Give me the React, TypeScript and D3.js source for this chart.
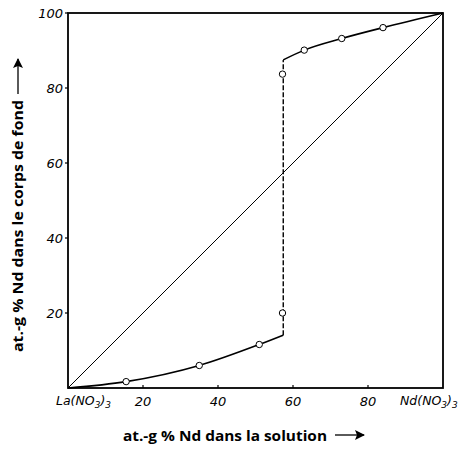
import React from "react";
import * as d3 from "d3";

const lowerX = [0, 15.5, 35, 51, 57.4];
const lowerY = [0, 1.7, 6.0, 11.6, 14.1];
const upperX = [57.4, 63, 73, 84, 100];
const upperY = [87.5, 90.1, 93.2, 96.1, 100];
const jumpX = [57.4, 57.4];
const jumpY = [14.1, 87.5];
const pointsX = [15.5, 35, 51, 57.2, 57.2, 63, 73, 84];
const pointsY = [1.7, 6.0, 11.6, 20, 83.7, 90.1, 93.2, 96.1];
const xTicks = [20, 40, 60, 80];
const yTicks = [20, 40, 60, 80, 100];

export default function App() {
  const L = 68, R = 443, T = 13, B = 388;
  const x = d3.scaleLinear().domain([0, 100]).range([L, R]);
  const y = d3.scaleLinear().domain([0, 100]).range([B, T]);
  const line = d3
    .line<[number, number]>()
    .x((d) => x(d[0]))
    .y((d) => y(d[1]))
    .curve(d3.curveMonotoneX);
  const lower = line(lowerX.map((v, i) => [v, lowerY[i]] as [number, number]));
  const upper = line(upperX.map((v, i) => [v, upperY[i]] as [number, number]));
  const straight = d3.line<[number, number]>().x((d) => x(d[0])).y((d) => y(d[1]));
  const jump = straight(jumpX.map((v, i) => [v, jumpY[i]] as [number, number]));
  const diag = straight([[0, 0], [100, 100]]);
  const tickFont = "'DejaVu Sans', sans-serif";
  const labelFont = "'Open Sans', sans-serif";
  return (
    <svg width={459} height={451} style={{ position: "absolute", left: 0, top: 0, background: "#fff" }}>
      <rect x={0} y={0} width={459} height={451} fill="#fff" />
      <defs>
        <marker id="ah" viewBox="0 0 10 10" refX={9} refY={5} markerWidth={10} markerHeight={10} markerUnits="userSpaceOnUse" orient="auto">
          <path d="M0,0 L10,5 L0,10 L2,5 Z" fill="#000" />
        </marker>
      </defs>
      <rect x={L} y={T} width={R - L} height={B - T} fill="none" stroke="#000" strokeWidth={1.8} />
      {yTicks.map((t) => (
        <g key={"y" + t}>
          <line x1={L - 3} x2={L} y1={y(t)} y2={y(t)} stroke="#000" strokeWidth={1.2} />
          <text x={L - 5} y={y(t)} dy="0.35em" textAnchor="end" fontFamily={tickFont} fontStyle="italic" fontSize={13}>
            {t}
          </text>
        </g>
      ))}
      {xTicks.map((t) => (
        <g key={"x" + t}>
          <line x1={x(t)} x2={x(t)} y1={B} y2={B - 3} stroke="#000" strokeWidth={1.2} />
          <text x={x(t)} y={406} textAnchor="middle" fontFamily={tickFont} fontStyle="italic" fontSize={13}>
            {t}
          </text>
        </g>
      ))}
      <text x={56} y={405} fontFamily={tickFont} fontStyle="italic" fontSize={12.5}>
        La(NO<tspan fontSize={9} dy={3}>3</tspan><tspan dy={-3}>)</tspan><tspan fontSize={9} dy={3}>3</tspan>
      </text>
      <text x={400} y={405} fontFamily={tickFont} fontStyle="italic" fontSize={12.5}>
        Nd(NO<tspan fontSize={9} dy={3}>3</tspan><tspan dy={-3}>)</tspan><tspan fontSize={9} dy={3}>3</tspan>
      </text>
      <path d={diag || ""} fill="none" stroke="#000" strokeWidth={1} />
      <path d={lower || ""} fill="none" stroke="#000" strokeWidth={1.6} />
      <path d={upper || ""} fill="none" stroke="#000" strokeWidth={1.6} />
      <path d={jump || ""} fill="none" stroke="#000" strokeWidth={1.4} strokeDasharray="5,2" />
      {pointsX.map((v, i) => (
        <circle key={"p" + i} cx={x(v)} cy={y(pointsY[i])} r={3.2} fill="#fff" stroke="#000" strokeWidth={1} />
      ))}
      <text x={123} y={441} fontFamily={labelFont} fontWeight="bold" fontSize={15} textLength={204} lengthAdjust="spacingAndGlyphs">
        at.-g % Nd dans la solution
      </text>
      <line x1={335} x2={364} y1={435} y2={435} stroke="#000" strokeWidth={1.3} markerEnd="url(#ah)" />
      <g transform="translate(23,352) rotate(-90)">
        <text x={0} y={0} fontFamily={labelFont} fontWeight="bold" fontSize={14.5} textLength={252} lengthAdjust="spacingAndGlyphs">
          at.-g % Nd dans le corps de fond
        </text>
      </g>
      <line x1={18} x2={18} y1={94} y2={59} stroke="#000" strokeWidth={1.3} markerEnd="url(#ah)" />
    </svg>
  );
}
